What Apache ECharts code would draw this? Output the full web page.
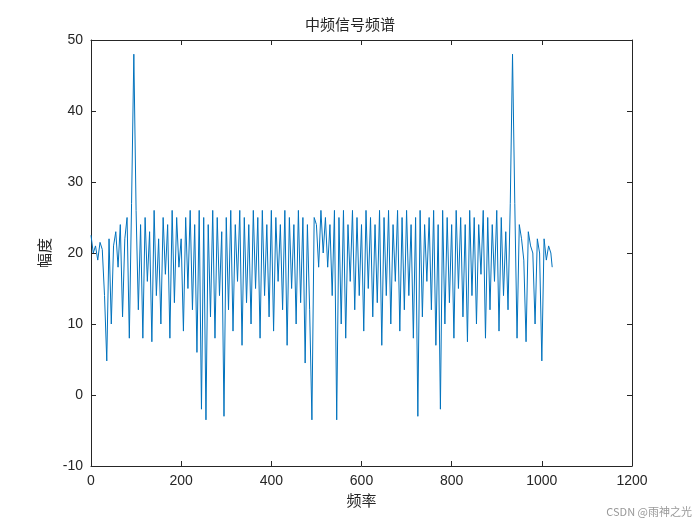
<!DOCTYPE html>
<html>
<head>
<meta charset="utf-8">
<script src="https://cdn.jsdelivr.net/npm/echarts@6/dist/echarts.min.js"></script>
<style>html,body{margin:0;background:#fff}#c{width:700px;height:525px}</style>
</head>
<body>
<div id="c"></div>
<script>
// 幅度, sampled every 5 frequency bins
var step = 5;
var amp = [
  22.5,20,21,19,21.5,20.5,14,4.8,22,10,
  21,23,18,24,11,22,25,8,27,48,
  26,12,24,8,25,16,23,7.5,26,14,
  22,10,25,17,24,8,26,13,25,18,
  22,9,25,15,26,12,24,6,26,-2,
  25,-3.5,24,11,26,8,25,14,23,-3,
  25,12,26,9,24,16,26,7,25,13,
  24,10,26,15,25,8,26,14,24,11,
  26,9,25,16,24,12,26,7,25,15,
  24,10,26,13,25,4.5,24,12,-3.5,25,
  24,18,26,20,25,18,24,14,26,-3.5,
  25,10,26,8,24,16,26,12,25,14,
  24,9,26,15,25,11,24,13,26,7,
  25,14,26,10,24,16,26,9,25,12,
  26,14,24,8,25,-3,26,11,24,16,
  25,12,26,7,24,-2,26,10,25,13,
  24,8,26,15,25,11,24,7.5,26,14,
  25,10,24,17,26,8,25,12,24,16,
  26,9,25,14,23,12,27,48,27,8,
  24,22,19,7.5,23,21,20,10,22,20,
  4.8,22,19,21,20
];
var lastPoint = [1023, 18];

var pts = amp.map(function(v, i){ return [i * step, v]; });
pts.push(lastPoint);

var chart = echarts.init(document.getElementById('c'));
function axis(extra, showLabel){
  return Object.assign({
    type:'value',
    axisLine:{show:true,onZero:false,lineStyle:{color:'#262626'}},
    axisTick:{show:true,inside:true,length:5,lineStyle:{color:'#262626'}},
    axisLabel:{show:showLabel,color:'#262626',fontSize:14,fontFamily:'Liberation Sans',formatter:function(v){return String(v);}},
    splitLine:{show:false}
  }, extra);
}
var nameStyle = {fontSize:15,color:'#262626',fontFamily:'Noto Sans CJK SC'};
chart.setOption({
  animation:false,
  title:{text:'中频信号频谱',left:'center',top:12,textStyle:{fontSize:15,fontWeight:'normal',color:'#262626',fontFamily:'Noto Sans CJK SC'}},
  grid:{left:91,right:68,top:40,bottom:59},
  xAxis:[
    axis({min:0,max:1200,interval:200,name:'频率',nameLocation:'middle',nameGap:26,nameTextStyle:nameStyle},true),
    axis({min:0,max:1200,interval:200,position:'top'},false)
  ],
  yAxis:[
    axis({min:-10,max:50,interval:10,name:'幅度',nameLocation:'middle',nameGap:36,nameTextStyle:nameStyle},true),
    axis({min:-10,max:50,interval:10,position:'right'},false)
  ],
  graphic:[
    {type:'text',right:8,bottom:8,style:{text:'CSDN @雨神之光',fill:'#999',fontSize:11,fontFamily:'Noto Sans CJK SC'}}
  ],
  series:[{type:'line',data:pts,symbol:'none',lineStyle:{color:'#0072bd',width:1}}]
});
</script>
</body>
</html>
